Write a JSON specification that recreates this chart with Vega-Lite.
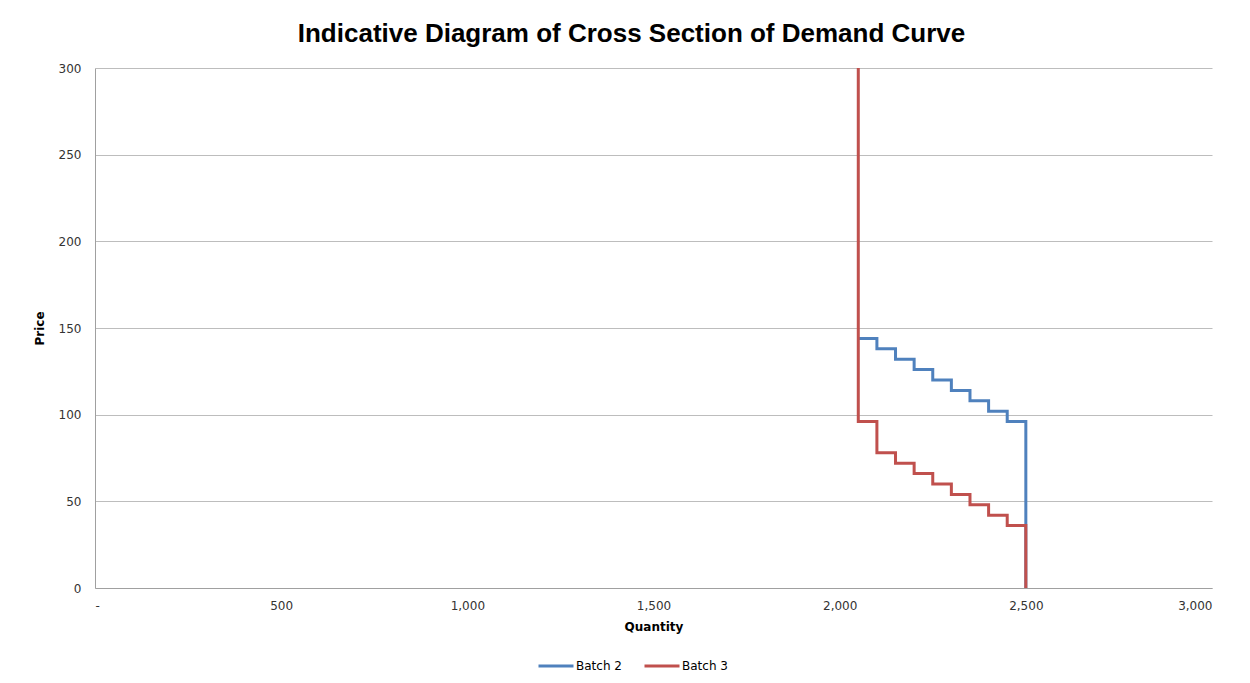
{
  "$schema": "https://vega.github.io/schema/vega-lite/v6.json",
  "autosize": {"type": "none"},
  "width": 1117,
  "height": 520,
  "padding": {"left": 95, "top": 68, "right": 38, "bottom": 95},
  "background": "white",
  "title": {
    "text": "Indicative Diagram of Cross Section of Demand Curve",
    "font": "Liberation Sans",
    "fontSize": 26,
    "fontWeight": "bold",
    "color": "#000000",
    "anchor": "middle",
    "dx": -22,
    "offset": 15
  },
  "config": {
    "view": {"stroke": null},
    "font": "DejaVu Sans"
  },
  "data": {
    "values": [
      {"series": "Batch 2", "i": 0, "q": 2050, "p": 144},
      {"series": "Batch 2", "i": 1, "q": 2100, "p": 138},
      {"series": "Batch 2", "i": 2, "q": 2150, "p": 132},
      {"series": "Batch 2", "i": 3, "q": 2200, "p": 126},
      {"series": "Batch 2", "i": 4, "q": 2250, "p": 120},
      {"series": "Batch 2", "i": 5, "q": 2300, "p": 114},
      {"series": "Batch 2", "i": 6, "q": 2350, "p": 108},
      {"series": "Batch 2", "i": 7, "q": 2400, "p": 102},
      {"series": "Batch 2", "i": 8, "q": 2450, "p": 96},
      {"series": "Batch 2", "i": 9, "q": 2500, "p": 0},
      {"series": "Batch 3", "i": 0, "q": 2050, "p": 300},
      {"series": "Batch 3", "i": 1, "q": 2050, "p": 96},
      {"series": "Batch 3", "i": 2, "q": 2100, "p": 78},
      {"series": "Batch 3", "i": 3, "q": 2150, "p": 72},
      {"series": "Batch 3", "i": 4, "q": 2200, "p": 66},
      {"series": "Batch 3", "i": 5, "q": 2250, "p": 60},
      {"series": "Batch 3", "i": 6, "q": 2300, "p": 54},
      {"series": "Batch 3", "i": 7, "q": 2350, "p": 48},
      {"series": "Batch 3", "i": 8, "q": 2400, "p": 42},
      {"series": "Batch 3", "i": 9, "q": 2450, "p": 36},
      {"series": "Batch 3", "i": 10, "q": 2500, "p": 0}
    ]
  },
  "mark": {"type": "line", "interpolate": "step-after", "strokeWidth": 3, "clip": true},
  "encoding": {
    "x": {
      "field": "q",
      "type": "quantitative",
      "scale": {"domain": [0, 3000], "nice": false},
      "axis": {
        "title": "Quantity",
        "titleFont": "DejaVu Sans",
        "titleFontSize": 12,
        "titleFontWeight": "bold",
        "titleColor": "#000000",
        "titlePadding": 10,
        "values": [0, 500, 1000, 1500, 2000, 2500, 3000],
        "labelExpr": "datum.value == 0 ? '-' : format(datum.value, ',')",
        "labelFont": "DejaVu Sans",
        "labelFontSize": 12,
        "labelColor": "#333333",
        "labelPadding": 12,
        "ticks": false,
        "grid": false,
        "domainColor": "#A0A0A0",
        "domainWidth": 1
      }
    },
    "y": {
      "field": "p",
      "type": "quantitative",
      "scale": {"domain": [0, 300], "nice": false},
      "axis": {
        "title": "Price",
        "titleFont": "DejaVu Sans",
        "titleFontSize": 12,
        "titleFontWeight": "bold",
        "titleColor": "#000000",
        "titlePadding": 12,
        "values": [0, 50, 100, 150, 200, 250, 300],
        "labelFont": "DejaVu Sans",
        "labelFontSize": 12,
        "labelColor": "#333333",
        "labelPadding": 14,
        "ticks": false,
        "grid": true,
        "gridColor": "#BDBDBD",
        "gridWidth": 1,
        "domainColor": "#A0A0A0",
        "domainWidth": 1
      }
    },
    "color": {
      "field": "series",
      "type": "nominal",
      "scale": {"domain": ["Batch 2", "Batch 3"], "range": ["#4F81BD", "#C0504D"]},
      "legend": {
        "title": null,
        "orient": "none",
        "direction": "horizontal",
        "legendX": 442,
        "legendY": 579,
        "symbolType": "stroke",
        "symbolStrokeWidth": 3,
        "symbolSize": 1225,
        "labelFont": "DejaVu Sans",
        "labelFontSize": 12,
        "labelColor": "#000000",
        "labelOffset": 1,
        "columnPadding": 16
      }
    },
    "order": {"field": "i", "type": "quantitative"}
  }
}
